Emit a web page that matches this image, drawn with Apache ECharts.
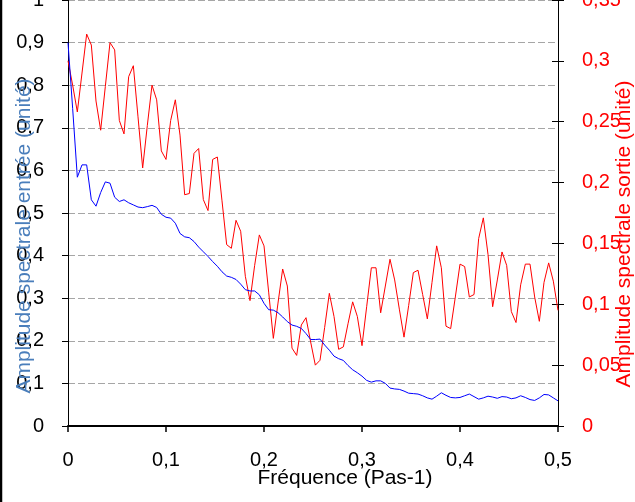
<!DOCTYPE html>
<html><head><meta charset="utf-8">
<script src="https://cdn.jsdelivr.net/npm/echarts@6/dist/echarts.min.js"></script>
<style>html,body{margin:0;padding:0;background:#fff}#c{width:635px;height:502px}</style>
</head><body><div id="c"></div>
<script>
// frequency spacing of the samples (Pas-1)
const freqStep = 1 / 210;

// Amplitude spectrale entrée (left axis)
const entree = [
  0.900, 0.745, 0.584, 0.613, 0.613, 0.531, 0.516, 0.548, 0.573, 0.570,
  0.537, 0.527, 0.531, 0.524, 0.519, 0.514, 0.5125, 0.515, 0.518, 0.513,
  0.497, 0.490, 0.488, 0.476, 0.452, 0.444, 0.442, 0.433, 0.420, 0.409,
  0.398, 0.386, 0.375, 0.362, 0.352, 0.349, 0.344, 0.333, 0.320, 0.317,
  0.317, 0.308, 0.288, 0.273, 0.272, 0.266, 0.256, 0.245, 0.237, 0.234,
  0.229, 0.217, 0.203, 0.203, 0.204, 0.190, 0.178, 0.164, 0.158, 0.154,
  0.142, 0.132, 0.125, 0.117, 0.107, 0.103, 0.106, 0.106, 0.100, 0.089,
  0.087, 0.086, 0.082, 0.077, 0.076, 0.075, 0.071, 0.066, 0.063, 0.070,
  0.078, 0.072, 0.067, 0.066, 0.067, 0.071, 0.075, 0.069, 0.063, 0.066,
  0.070, 0.068, 0.065, 0.069, 0.068, 0.064, 0.066, 0.071, 0.067, 0.062,
  0.060, 0.066, 0.074, 0.073, 0.066, 0.059
];

// Amplitude spectrale sortie (right axis)
const sortie = [
  0.300, 0.280, 0.258, 0.290, 0.322, 0.313, 0.267, 0.243, 0.279, 0.315,
  0.309, 0.251, 0.240, 0.287, 0.296, 0.254, 0.212, 0.247, 0.280, 0.268,
  0.226, 0.219, 0.251, 0.268, 0.239, 0.190, 0.191, 0.224, 0.228, 0.186,
  0.177, 0.219, 0.221, 0.185, 0.149, 0.146, 0.169, 0.160, 0.123, 0.103,
  0.132, 0.157, 0.148, 0.110, 0.072, 0.101, 0.129, 0.115, 0.064, 0.058,
  0.083, 0.089, 0.069, 0.050, 0.054, 0.081, 0.109, 0.090, 0.063, 0.065,
  0.084, 0.102, 0.090, 0.066, 0.098, 0.130, 0.130, 0.093, 0.115, 0.137,
  0.120, 0.096, 0.073, 0.099, 0.126, 0.128, 0.108, 0.088, 0.118, 0.148,
  0.130, 0.082, 0.080, 0.106, 0.133, 0.131, 0.106, 0.108, 0.154, 0.171,
  0.141, 0.098, 0.120, 0.143, 0.132, 0.094, 0.085, 0.116, 0.133, 0.133,
  0.106, 0.086, 0.118, 0.134, 0.119, 0.095
];

const xTicks = [0, 0.1, 0.2, 0.3, 0.4, 0.5];
const leftTicks = [0, 0.1, 0.2, 0.3, 0.4, 0.5, 0.6, 0.7, 0.8, 0.9, 1];
const rightTicks = [0, 0.05, 0.1, 0.15, 0.2, 0.25, 0.3, 0.35];

const xName = 'Fréquence (Pas-1)';
const leftName = 'Amplitude spectrale entrée (unité)';
const rightName = 'Amplitude spectrale sortie (unité)';

const fmt = v => (Math.round(v * 100) / 100).toString().replace('.', ',');
const FONT = 'Liberation Sans, Arial, sans-serif';
const NAME_FONT = '21px "Liberation Sans", Arial, sans-serif';

const chart = echarts.init(document.getElementById('c'), null, {renderer: 'canvas'});
chart.setOption({
  animation: false,
  backgroundColor: '#ffffff',
  grid: {left: 68, right: 77, top: 0, bottom: 76, containLabel: false, outerBoundsMode: 'none'},
  graphic: [{
    type: 'line', shape: {x1: 1, y1: 0, x2: 1, y2: 502},
    style: {stroke: '#000', lineWidth: 2.5}
  }, {
    type: 'text', x: 345, y: 478, z: 10,
    style: {text: xName, font: NAME_FONT, fill: '#000', align: 'center', verticalAlign: 'middle'}
  }, {
    type: 'text', x: 24, y: 236, rotation: Math.PI / 2, z: 10,
    style: {text: leftName, font: NAME_FONT, fill: '#4a7ebb', align: 'center', verticalAlign: 'middle'}
  }, {
    type: 'text', x: 624, y: 234, rotation: Math.PI / 2, z: 10,
    style: {text: rightName, font: NAME_FONT, fill: '#ff0000', align: 'center', verticalAlign: 'middle'}
  }],
  xAxis: {
    type: 'value', min: xTicks[0], max: xTicks[xTicks.length - 1], interval: 0.1,
    axisLine: {show: true, onZero: false, lineStyle: {color: '#000', width: 2}},
    axisTick: {show: true, inside: false, length: 6, lineStyle: {color: '#000', width: 1.5}},
    axisLabel: {color: '#000', fontSize: 20, fontFamily: FONT, margin: 24, formatter: fmt},
    splitLine: {show: false}
  },
  yAxis: [{
    type: 'value', position: 'left', min: leftTicks[0], max: leftTicks[leftTicks.length - 1], interval: 0.1,
    axisLine: {show: true, lineStyle: {color: '#000', width: 1}},
    axisTick: {show: true, inside: false, length: 6, lineStyle: {color: '#000'}},
    axisLabel: {color: '#000', fontSize: 20, fontFamily: FONT, margin: 24, formatter: fmt},
    splitLine: {show: true, lineStyle: {color: '#a6a6a6', type: [7, 3], width: 1}}
  }, {
    type: 'value', position: 'right', min: rightTicks[0], max: rightTicks[rightTicks.length - 1], interval: 0.05,
    axisLine: {show: true, lineStyle: {color: '#000', width: 1}},
    axisTick: {show: true, inside: false, length: 6, lineStyle: {color: '#000'}},
    axisLabel: {color: '#ff0000', fontSize: 20, fontFamily: FONT, margin: 24, formatter: fmt},
    splitLine: {show: false}
  }, {
    type: 'value', position: 'right', min: rightTicks[0], max: rightTicks[rightTicks.length - 1], interval: 0.05,
    axisLine: {show: true, lineStyle: {color: '#000', width: 1}},
    axisTick: {show: true, inside: true, length: 6, lineStyle: {color: '#000'}},
    axisLabel: {show: false},
    splitLine: {show: false}
  }],
  series: [{
    name: leftName, type: 'line', yAxisIndex: 0, showSymbol: false, symbol: 'none',
    lineStyle: {color: '#0000ff', width: 1}, itemStyle: {color: '#0000ff'},
    data: entree.map((v, i) => [i * freqStep, v]), z: 3
  }, {
    name: rightName, type: 'line', yAxisIndex: 1, showSymbol: false, symbol: 'none',
    lineStyle: {color: '#ff0000', width: 1}, itemStyle: {color: '#ff0000'},
    data: sortie.map((v, i) => [i * freqStep, v]), z: 2
  }]
});
</script>
</body></html>
